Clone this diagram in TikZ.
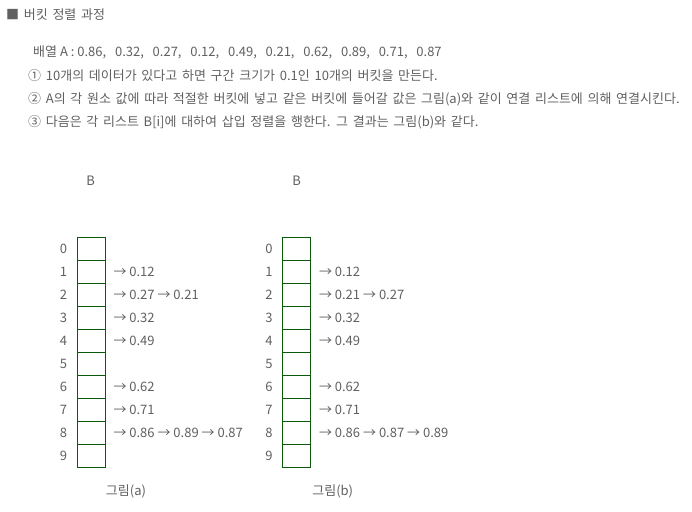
\documentclass[tikz,border=0pt]{standalone}
\usepackage{fontspec}
\setmainfont{Noto Sans CJK KR}
\usepackage{tikz}
\usetikzlibrary{positioning}
\definecolor{textGray}{HTML}{606060}
\definecolor{cellGreen}{HTML}{0B5A0B}
\newcommand{\gap}{\hspace{8.8pt}}
\newcommand{\wideSpace}{\spaceskip 4.7pt\relax}
\tikzstyle{textLine}=[anchor=west, inner sep=0pt, text=textGray, font=\fontsize{13}{15}\selectfont\wideSpace]
\tikzstyle{arrayLine}=[anchor=west, inner sep=0pt, text=textGray, font=\fontsize{13}{15}\selectfont]
\tikzstyle{bucketCell}=[draw=cellGreen, line width=1pt, minimum width=28pt, minimum height=23pt, inner sep=0pt, outer sep=0pt]
\tikzstyle{indexLabel}=[inner sep=0pt, text=textGray, font=\fontsize{13}{15}\selectfont]
\tikzstyle{listLabel}=[inner sep=0pt, text=textGray, font=\fontsize{13}{15}\selectfont]

\begin{document}
\begin{tikzpicture}[x=1pt, y=-1pt]

    \useasboundingbox (0,0) rectangle (692,511);

    % header text

    \node[textLine] (title) at (6,14.5) {■ 버킷 정렬 과정};
    \node[arrayLine] (array) at (33,52) {배열 A : 0.86,\gap 0.32,\gap 0.27,\gap 0.12,\gap 0.49,\gap 0.21,\gap 0.62,\gap 0.89,\gap 0.71,\gap 0.87};
    \node[textLine] (step1) at (28,76) {① 10개의 데이터가 있다고 하면 구간 크기가 0.1인 10개의 버킷을 만든다.};
    \node[textLine] (step2) at (28,99) {② A의 각 원소 값에 따라 적절한 버킷에 넣고 같은 버킷에 들어갈 값은 그림(a)와 같이 연결 리스트에 의해 연결시킨다.};
    \node[textLine] (step3) at (28,122) {③ 다음은 각 리스트 B[i]에 대하여 삽입 정렬을 행한다. 그 결과는 그림(b)와 같다.};

    % bucket array (a)

    \node[indexLabel] (ba) at (90.7,181) {B};
    \node[bucketCell] (a0) at (91.3,248.8) {};
    \node[bucketCell] (a1) at (91.3,271.8) {};
    \node[bucketCell] (a2) at (91.3,294.8) {};
    \node[bucketCell] (a3) at (91.3,317.8) {};
    \node[bucketCell] (a4) at (91.3,340.8) {};
    \node[bucketCell] (a5) at (91.3,363.8) {};
    \node[bucketCell] (a6) at (91.3,386.8) {};
    \node[bucketCell] (a7) at (91.3,409.8) {};
    \node[bucketCell] (a8) at (91.3,432.8) {};
    \node[bucketCell] (a9) at (91.3,455.8) {};
    \node[textLine, anchor=center] (capa) at (126,491) {그림(a)};

    % bucket array (b)

    \node[indexLabel] (bb) at (296.7,181) {B};
    \node[bucketCell] (b0) at (296.8,248.8) {};
    \node[bucketCell] (b1) at (296.8,271.8) {};
    \node[bucketCell] (b2) at (296.8,294.8) {};
    \node[bucketCell] (b3) at (296.8,317.8) {};
    \node[bucketCell] (b4) at (296.8,340.8) {};
    \node[bucketCell] (b5) at (296.8,363.8) {};
    \node[bucketCell] (b6) at (296.8,386.8) {};
    \node[bucketCell] (b7) at (296.8,409.8) {};
    \node[bucketCell] (b8) at (296.8,432.8) {};
    \node[bucketCell] (b9) at (296.8,455.8) {};
    \node[textLine, anchor=center] (capb) at (332.7,491) {그림(b)};

    % indices

    \node[indexLabel, left=10pt of a0] (ia0) {0};
    \node[indexLabel, left=10pt of a1] (ia1) {1};
    \node[indexLabel, left=10pt of a2] (ia2) {2};
    \node[indexLabel, left=10pt of a3] (ia3) {3};
    \node[indexLabel, left=10pt of a4] (ia4) {4};
    \node[indexLabel, left=10pt of a5] (ia5) {5};
    \node[indexLabel, left=10pt of a6] (ia6) {6};
    \node[indexLabel, left=10pt of a7] (ia7) {7};
    \node[indexLabel, left=10pt of a8] (ia8) {8};
    \node[indexLabel, left=10pt of a9] (ia9) {9};

    \node[indexLabel, left=10pt of b0] (ib0) {0};
    \node[indexLabel, left=10pt of b1] (ib1) {1};
    \node[indexLabel, left=10pt of b2] (ib2) {2};
    \node[indexLabel, left=10pt of b3] (ib3) {3};
    \node[indexLabel, left=10pt of b4] (ib4) {4};
    \node[indexLabel, left=10pt of b5] (ib5) {5};
    \node[indexLabel, left=10pt of b6] (ib6) {6};
    \node[indexLabel, left=10pt of b7] (ib7) {7};
    \node[indexLabel, left=10pt of b8] (ib8) {8};
    \node[indexLabel, left=10pt of b9] (ib9) {9};

    % linked lists

    \node[listLabel, right=8pt of a1] (la1) {→ 0.12};
    \node[listLabel, right=8pt of a2] (la2) {→ 0.27 → 0.21};
    \node[listLabel, right=8pt of a3] (la3) {→ 0.32};
    \node[listLabel, right=8pt of a4] (la4) {→ 0.49};
    \node[listLabel, right=8pt of a6] (la6) {→ 0.62};
    \node[listLabel, right=8pt of a7] (la7) {→ 0.71};
    \node[listLabel, right=8pt of a8] (la8) {→ 0.86 → 0.89 → 0.87};

    \node[listLabel, right=8pt of b1] (lb1) {→ 0.12};
    \node[listLabel, right=8pt of b2] (lb2) {→ 0.21 → 0.27};
    \node[listLabel, right=8pt of b3] (lb3) {→ 0.32};
    \node[listLabel, right=8pt of b4] (lb4) {→ 0.49};
    \node[listLabel, right=8pt of b6] (lb6) {→ 0.62};
    \node[listLabel, right=8pt of b7] (lb7) {→ 0.71};
    \node[listLabel, right=8pt of b8] (lb8) {→ 0.86 → 0.87 → 0.89};

\end{tikzpicture}
\end{document}
